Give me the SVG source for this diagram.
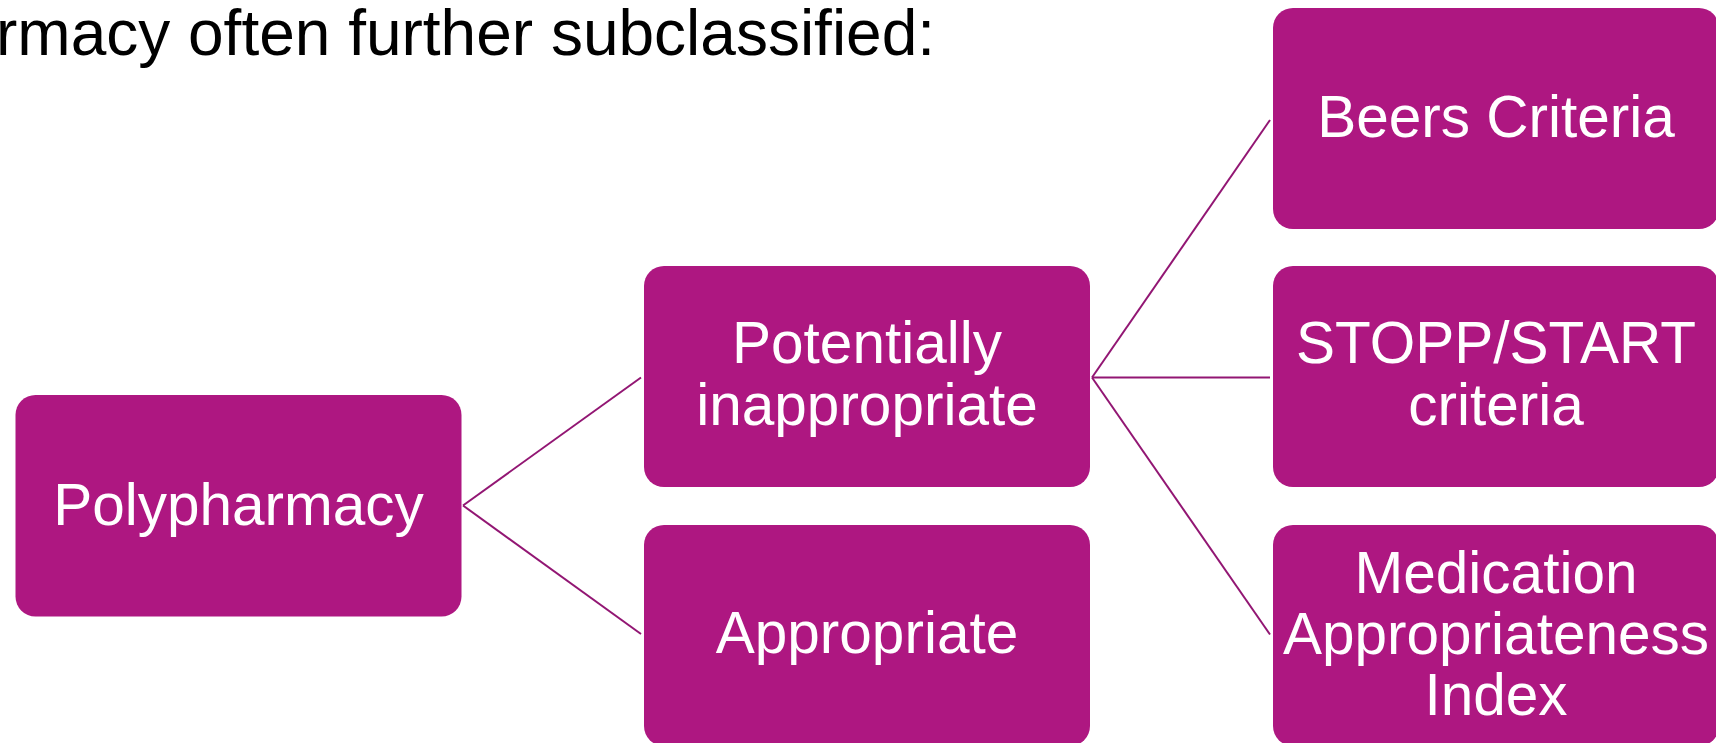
<svg xmlns="http://www.w3.org/2000/svg" width="1716" height="743" viewBox="0 0 1716 743">
<style>
.box{fill:#AE1781;}
.lbl{fill:#FFFFFF;font-family:"Liberation Sans",Arial,sans-serif;font-size:58.5px;text-anchor:middle;}
.title{fill:#000000;font-family:"Liberation Sans",Arial,sans-serif;font-size:64px;}
.conn{stroke:#921673;stroke-width:2;fill:none;}
</style>
<rect width="1716" height="743" fill="#FFFFFF"/>
<text class="title" x="-4" y="55" text-anchor="start">rmacy often further subclassified:</text>
<g id="connectors">
<line class="conn" x1="463" y1="505.5" x2="641" y2="377.5"/>
<line class="conn" x1="463" y1="505.5" x2="641" y2="634"/>
<line class="conn" x1="1092" y1="377.5" x2="1270" y2="120"/>
<line class="conn" x1="1092" y1="377.5" x2="1270" y2="377.5"/>
<line class="conn" x1="1092" y1="377.5" x2="1270" y2="634.5"/>
</g>
<g id="polypharmacy">
<rect class="box" x="15.5" y="395" width="446" height="221.5" rx="20"/>
<text class="lbl" x="238.5" y="525">Polypharmacy</text>
</g>
<g id="potentially-inappropriate">
<rect class="box" x="644" y="266" width="446" height="221" rx="20"/>
<text class="lbl" x="867" y="363">Potentially</text>
<text class="lbl" x="867" y="425">inappropriate</text>
</g>
<g id="appropriate">
<rect class="box" x="644" y="525" width="446" height="221" rx="20"/>
<text class="lbl" x="867" y="653">Appropriate</text>
</g>
<g id="beers-criteria">
<rect class="box" x="1273" y="8" width="446" height="221" rx="20"/>
<text class="lbl" x="1496" y="137">Beers Criteria</text>
</g>
<g id="stopp-start">
<rect class="box" x="1273" y="266" width="446" height="221" rx="20"/>
<text class="lbl" x="1496" y="363">STOPP/START</text>
<text class="lbl" x="1496" y="425">criteria</text>
</g>
<g id="medication-appropriateness-index">
<rect class="box" x="1273" y="525" width="446" height="221" rx="20"/>
<text class="lbl" x="1496" y="592.5">Medication</text>
<text class="lbl" x="1496" y="653.5">Appropriateness</text>
<text class="lbl" x="1496" y="714.5">Index</text>
</g>
</svg>
